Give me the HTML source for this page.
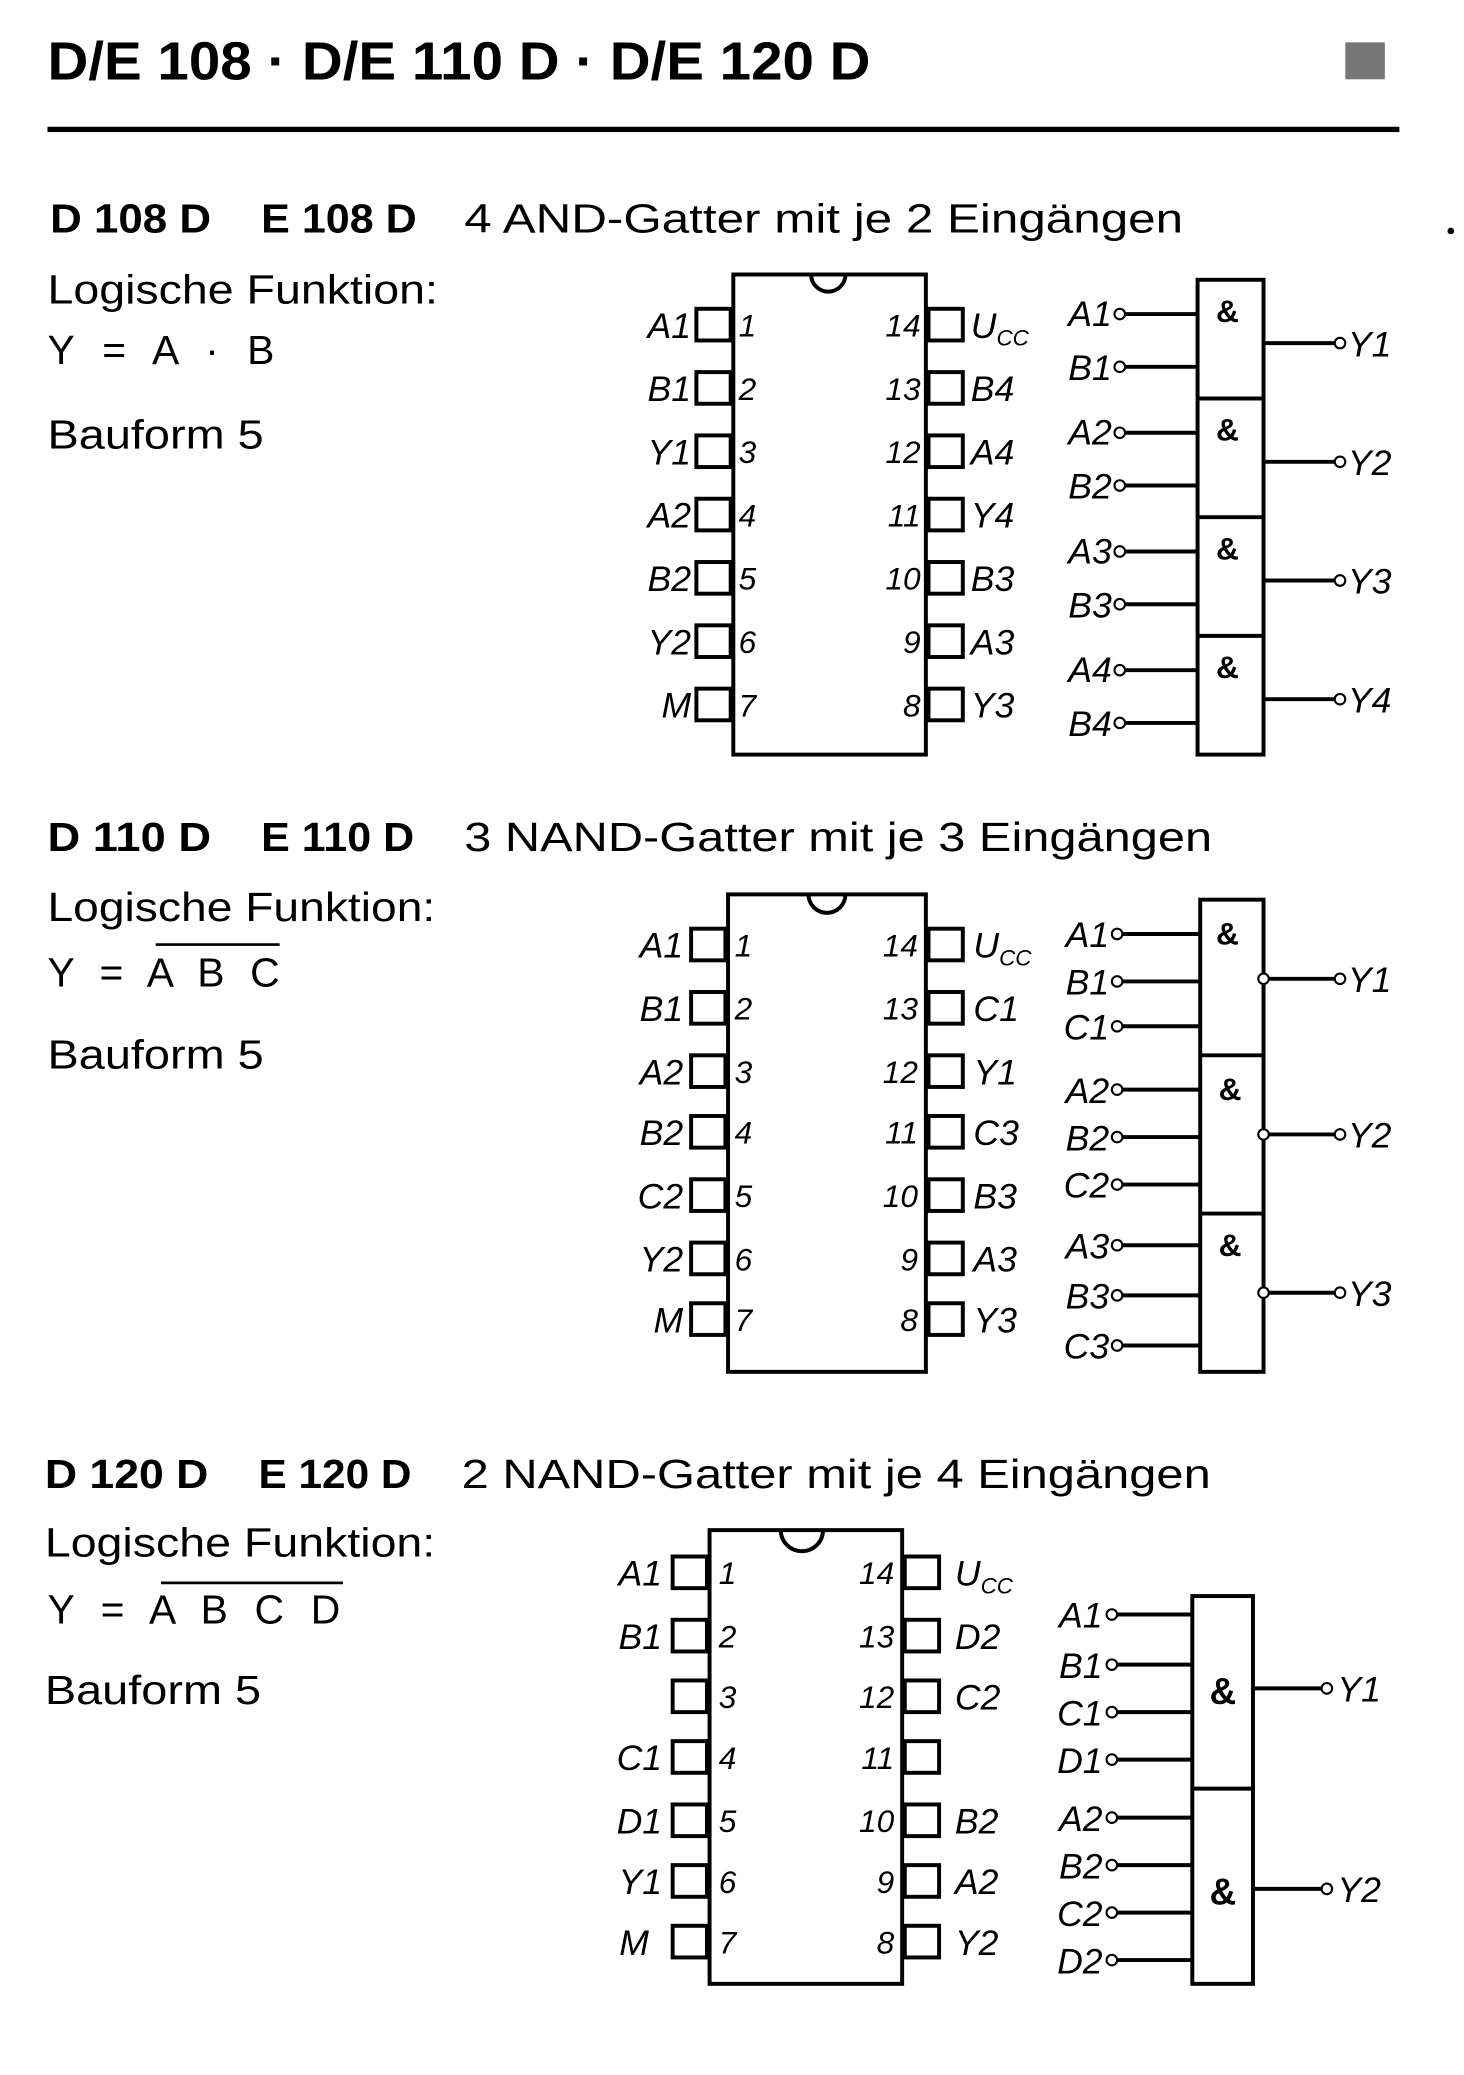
<!DOCTYPE html>
<html><head><meta charset="utf-8"><style>
html,body{margin:0;padding:0;background:#fff}
svg{display:block}
text{font-family:"Liberation Sans",sans-serif;fill:#000}
.t{font-size:31px}
.b{font-weight:bold}
.l{font-size:27px;font-style:italic}
.n{font-size:24px;font-style:italic}
.a{font-size:24px;font-weight:bold}
.s{fill:none;stroke:#000;stroke-width:3}
.c{fill:#fff;stroke:#000;stroke-width:1.6}
</style></head><body>
<svg width="1464" height="2075" viewBox="0 0 1110 1573" xmlns="http://www.w3.org/2000/svg">
<text x="36" y="60" class="b" style="font-size:41px" textLength="624" lengthAdjust="spacingAndGlyphs">D/E 108 · D/E 110 D · D/E 120 D</text>
<rect x="1020" y="32" width="30" height="28" fill="#777"/>
<rect x="36" y="96" width="1025" height="4" fill="#000"/>
<circle cx="1100" cy="175" r="2.5" fill="#000"/>

<!-- Section 1 -->
<text x="38" y="176" class="t b" textLength="122" lengthAdjust="spacingAndGlyphs">D 108 D</text>
<text x="198" y="176" class="t b" textLength="118" lengthAdjust="spacingAndGlyphs">E 108 D</text>
<text x="352" y="176" class="t" textLength="545" lengthAdjust="spacingAndGlyphs">4 AND-Gatter mit je 2 Eingängen</text>
<text x="36" y="230" class="t" textLength="296" lengthAdjust="spacingAndGlyphs">Logische Funktion:</text>
<text x="36" y="276" class="t" textLength="172" lengthAdjust="spacing">Y = A · B</text>
<text x="36" y="340" class="t" textLength="164" lengthAdjust="spacingAndGlyphs">Bauform 5</text>
<g class="s">
<rect x="556" y="208" width="146" height="364"/>
<path d="M615,208 A13,13 0 0 0 641,208" />
<rect x="528" y="234" width="26" height="24"/><rect x="528" y="282" width="26" height="24"/><rect x="528" y="330" width="26" height="24"/><rect x="528" y="378" width="26" height="24"/><rect x="528" y="426" width="26" height="24"/><rect x="528" y="474" width="26" height="24"/><rect x="528" y="522" width="26" height="24"/>
<rect x="704" y="234" width="26" height="24"/><rect x="704" y="282" width="26" height="24"/><rect x="704" y="330" width="26" height="24"/><rect x="704" y="378" width="26" height="24"/><rect x="704" y="426" width="26" height="24"/><rect x="704" y="474" width="26" height="24"/><rect x="704" y="522" width="26" height="24"/>
</g>
<g class="n">
<text x="560" y="255">1</text><text x="560" y="303">2</text><text x="560" y="351">3</text><text x="560" y="399">4</text><text x="560" y="447">5</text><text x="560" y="495">6</text><text x="560" y="543">7</text>
<text x="698" y="255" text-anchor="end">14</text><text x="698" y="303" text-anchor="end">13</text><text x="698" y="351" text-anchor="end">12</text><text x="698" y="399" text-anchor="end">11</text><text x="698" y="447" text-anchor="end">10</text><text x="698" y="495" text-anchor="end">9</text><text x="698" y="543" text-anchor="end">8</text>
</g>
<g class="l" text-anchor="end">
<text x="524" y="256">A1</text><text x="524" y="304">B1</text><text x="524" y="352">Y1</text><text x="524" y="400">A2</text><text x="524" y="448">B2</text><text x="524" y="496">Y2</text><text x="524" y="544">M</text>
</g>
<g class="l">
<text x="736" y="256">U<tspan font-size="17" dy="6">CC</tspan></text><text x="736" y="304">B4</text><text x="736" y="352">A4</text><text x="736" y="400">Y4</text><text x="736" y="448">B3</text><text x="736" y="496">A3</text><text x="736" y="544">Y3</text>
</g>
<g class="s">
<rect x="908" y="212" width="50" height="360"/>
<line x1="908" y1="302" x2="958" y2="302"/><line x1="908" y1="392" x2="958" y2="392"/><line x1="908" y1="482" x2="958" y2="482"/>
<path d="M852,238H908M852,278H908M852,328H908M852,368H908M852,418H908M852,458H908M852,508H908M852,548H908"/>
<path d="M958,260H1012M958,350H1012M958,440H1012M958,530H1012"/>
</g>
<g>
<circle class="c" cx="849" cy="238" r="4"/><circle class="c" cx="849" cy="278" r="4"/><circle class="c" cx="849" cy="328" r="4"/><circle class="c" cx="849" cy="368" r="4"/><circle class="c" cx="849" cy="418" r="4"/><circle class="c" cx="849" cy="458" r="4"/><circle class="c" cx="849" cy="508" r="4"/><circle class="c" cx="849" cy="548" r="4"/>
<circle class="c" cx="1016" cy="260" r="4"/><circle class="c" cx="1016" cy="350" r="4"/><circle class="c" cx="1016" cy="440" r="4"/><circle class="c" cx="1016" cy="530" r="4"/>
</g>
<g class="a"><text x="922" y="244">&amp;</text><text x="922" y="334">&amp;</text><text x="922" y="424">&amp;</text><text x="922" y="514">&amp;</text></g>
<g class="l" text-anchor="end">
<text x="843" y="247">A1</text><text x="843" y="288">B1</text><text x="843" y="337">A2</text><text x="843" y="378">B2</text><text x="843" y="427">A3</text><text x="843" y="468">B3</text><text x="843" y="517">A4</text><text x="843" y="558">B4</text>
</g>
<g class="l"><text x="1022" y="270">Y1</text><text x="1022" y="360">Y2</text><text x="1022" y="450">Y3</text><text x="1022" y="540">Y4</text></g>

<!-- Section 2 -->
<text x="36" y="645" class="t b" textLength="124" lengthAdjust="spacingAndGlyphs">D 110 D</text>
<text x="198" y="645" class="t b" textLength="116" lengthAdjust="spacingAndGlyphs">E 110 D</text>
<text x="352" y="645" class="t" textLength="567" lengthAdjust="spacingAndGlyphs">3 NAND-Gatter mit je 3 Eingängen</text>
<text x="36" y="698" class="t" textLength="294" lengthAdjust="spacingAndGlyphs">Logische Funktion:</text>
<text x="36" y="748" class="t" textLength="176" lengthAdjust="spacing">Y = A B C</text>
<line x1="118" y1="716" x2="212" y2="716" stroke="#000" stroke-width="2"/>
<text x="36" y="810" class="t" textLength="164" lengthAdjust="spacingAndGlyphs">Bauform 5</text>
<g class="s">
<rect x="552" y="678" width="150" height="362"/>
<path d="M613,678 A14,14 0 0 0 641,678" />
<rect x="524" y="704" width="26" height="24"/><rect x="524" y="752" width="26" height="24"/><rect x="524" y="800" width="26" height="24"/><rect x="524" y="846" width="26" height="24"/><rect x="524" y="894" width="26" height="24"/><rect x="524" y="942" width="26" height="24"/><rect x="524" y="988" width="26" height="24"/>
<rect x="704" y="704" width="26" height="24"/><rect x="704" y="752" width="26" height="24"/><rect x="704" y="800" width="26" height="24"/><rect x="704" y="846" width="26" height="24"/><rect x="704" y="894" width="26" height="24"/><rect x="704" y="942" width="26" height="24"/><rect x="704" y="988" width="26" height="24"/>
</g>
<g class="n">
<text x="557" y="725">1</text><text x="557" y="773">2</text><text x="557" y="821">3</text><text x="557" y="867">4</text><text x="557" y="915">5</text><text x="557" y="963">6</text><text x="557" y="1009">7</text>
<text x="696" y="725" text-anchor="end">14</text><text x="696" y="773" text-anchor="end">13</text><text x="696" y="821" text-anchor="end">12</text><text x="696" y="867" text-anchor="end">11</text><text x="696" y="915" text-anchor="end">10</text><text x="696" y="963" text-anchor="end">9</text><text x="696" y="1009" text-anchor="end">8</text>
</g>
<g class="l" text-anchor="end">
<text x="518" y="726">A1</text><text x="518" y="774">B1</text><text x="518" y="822">A2</text><text x="518" y="868">B2</text><text x="518" y="916">C2</text><text x="518" y="964">Y2</text><text x="518" y="1010">M</text>
</g>
<g class="l">
<text x="738" y="726">U<tspan font-size="17" dy="6">CC</tspan></text><text x="738" y="774">C1</text><text x="738" y="822">Y1</text><text x="738" y="868">C3</text><text x="738" y="916">B3</text><text x="738" y="964">A3</text><text x="738" y="1010">Y3</text>
</g>
<g class="s">
<rect x="910" y="682" width="48" height="358"/>
<line x1="910" y1="800" x2="958" y2="800"/><line x1="910" y1="920" x2="958" y2="920"/>
<path d="M850,708H910M850,744H910M850,778H910M850,826H910M850,862H910M850,898H910M850,944H910M850,982H910M850,1020H910"/>
<path d="M962,742H1012M962,860H1012M962,980H1012"/>
</g>
<g>
<circle class="c" cx="847" cy="708" r="4"/><circle class="c" cx="847" cy="744" r="4"/><circle class="c" cx="847" cy="778" r="4"/><circle class="c" cx="847" cy="826" r="4"/><circle class="c" cx="847" cy="862" r="4"/><circle class="c" cx="847" cy="898" r="4"/><circle class="c" cx="847" cy="944" r="4"/><circle class="c" cx="847" cy="982" r="4"/><circle class="c" cx="847" cy="1020" r="4"/>
<circle class="c" cx="958" cy="742" r="4"/><circle class="c" cx="958" cy="860" r="4"/><circle class="c" cx="958" cy="980" r="4"/>
<circle class="c" cx="1016" cy="742" r="4"/><circle class="c" cx="1016" cy="860" r="4"/><circle class="c" cx="1016" cy="980" r="4"/>
</g>
<g class="a"><text x="922" y="716">&amp;</text><text x="924" y="834">&amp;</text><text x="924" y="952">&amp;</text></g>
<g class="l" text-anchor="end">
<text x="841" y="718">A1</text><text x="841" y="754">B1</text><text x="841" y="788">C1</text><text x="841" y="836">A2</text><text x="841" y="872">B2</text><text x="841" y="908">C2</text><text x="841" y="954">A3</text><text x="841" y="992">B3</text><text x="841" y="1030">C3</text>
</g>
<g class="l"><text x="1022" y="752">Y1</text><text x="1022" y="870">Y2</text><text x="1022" y="990">Y3</text></g>

<!-- Section 3 -->
<text x="34" y="1128" class="t b" textLength="124" lengthAdjust="spacingAndGlyphs">D 120 D</text>
<text x="196" y="1128" class="t b" textLength="116" lengthAdjust="spacingAndGlyphs">E 120 D</text>
<text x="350" y="1128" class="t" textLength="568" lengthAdjust="spacingAndGlyphs">2 NAND-Gatter mit je 4 Eingängen</text>
<text x="34" y="1180" class="t" textLength="296" lengthAdjust="spacingAndGlyphs">Logische Funktion:</text>
<text x="36" y="1231" class="t" textLength="222" lengthAdjust="spacing">Y = A B C D</text>
<line x1="122" y1="1200" x2="260" y2="1200" stroke="#000" stroke-width="2"/>
<text x="34" y="1292" class="t" textLength="164" lengthAdjust="spacingAndGlyphs">Bauform 5</text>
<g class="s">
<rect x="538" y="1160" width="146" height="344"/>
<path d="M592,1160 A15,15 0 0 0 624,1160" />
<rect x="510" y="1180" width="26" height="24"/><rect x="510" y="1228" width="26" height="24"/><rect x="510" y="1274" width="26" height="24"/><rect x="510" y="1320" width="26" height="24"/><rect x="510" y="1368" width="26" height="24"/><rect x="510" y="1414" width="26" height="24"/><rect x="510" y="1460" width="26" height="24"/>
<rect x="686" y="1180" width="26" height="24"/><rect x="686" y="1228" width="26" height="24"/><rect x="686" y="1274" width="26" height="24"/><rect x="686" y="1320" width="26" height="24"/><rect x="686" y="1368" width="26" height="24"/><rect x="686" y="1414" width="26" height="24"/><rect x="686" y="1460" width="26" height="24"/>
</g>
<g class="n">
<text x="545" y="1201">1</text><text x="545" y="1249">2</text><text x="545" y="1295">3</text><text x="545" y="1341">4</text><text x="545" y="1389">5</text><text x="545" y="1435">6</text><text x="545" y="1481">7</text>
<text x="678" y="1201" text-anchor="end">14</text><text x="678" y="1249" text-anchor="end">13</text><text x="678" y="1295" text-anchor="end">12</text><text x="678" y="1341" text-anchor="end">11</text><text x="678" y="1389" text-anchor="end">10</text><text x="678" y="1435" text-anchor="end">9</text><text x="678" y="1481" text-anchor="end">8</text>
</g>
<g class="l" text-anchor="end">
<text x="502" y="1202">A1</text><text x="502" y="1250">B1</text><text x="502" y="1342">C1</text><text x="502" y="1390">D1</text><text x="502" y="1436">Y1</text><text x="492" y="1482">M</text>
</g>
<g class="l">
<text x="724" y="1202">U<tspan font-size="17" dy="6">CC</tspan></text><text x="724" y="1250">D2</text><text x="724" y="1296">C2</text><text x="724" y="1390">B2</text><text x="724" y="1436">A2</text><text x="724" y="1482">Y2</text>
</g>
<g class="s">
<rect x="904" y="1210" width="46" height="294"/>
<line x1="904" y1="1356" x2="950" y2="1356"/>
<path d="M846,1224H904M846,1262H904M846,1298H904M846,1334H904M846,1378H904M846,1414H904M846,1450H904M846,1486H904"/>
<path d="M950,1280H1002M950,1432H1002"/>
</g>
<g>
<circle class="c" cx="843" cy="1224" r="4"/><circle class="c" cx="843" cy="1262" r="4"/><circle class="c" cx="843" cy="1298" r="4"/><circle class="c" cx="843" cy="1334" r="4"/><circle class="c" cx="843" cy="1378" r="4"/><circle class="c" cx="843" cy="1414" r="4"/><circle class="c" cx="843" cy="1450" r="4"/><circle class="c" cx="843" cy="1486" r="4"/>
<circle class="c" cx="1006" cy="1280" r="4"/><circle class="c" cx="1006" cy="1432" r="4"/>
</g>
<g class="a" style="font-size:28px"><text x="917" y="1292">&amp;</text><text x="917" y="1444">&amp;</text></g>
<g class="l" text-anchor="end">
<text x="836" y="1234">A1</text><text x="836" y="1272">B1</text><text x="836" y="1308">C1</text><text x="836" y="1344">D1</text><text x="836" y="1388">A2</text><text x="836" y="1424">B2</text><text x="836" y="1460">C2</text><text x="836" y="1496">D2</text>
</g>
<g class="l"><text x="1014" y="1290">Y1</text><text x="1014" y="1442">Y2</text></g>
</svg>
</body></html>
